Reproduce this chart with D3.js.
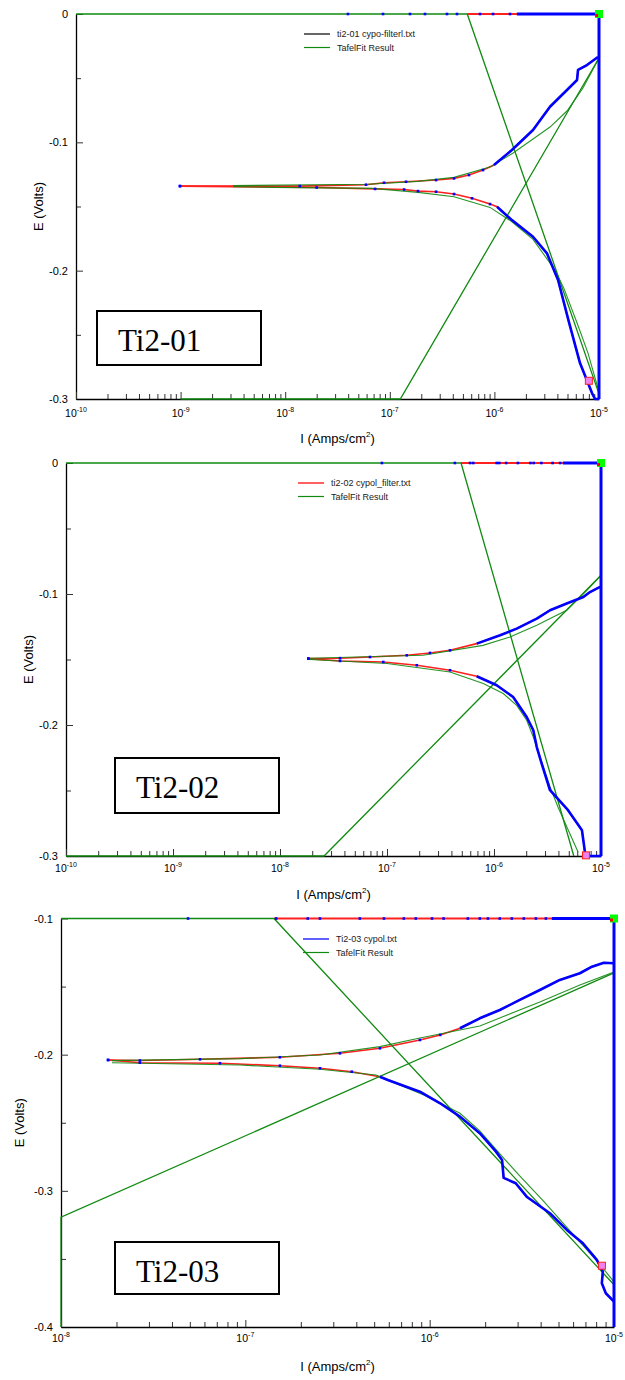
<!DOCTYPE html>
<html><head><meta charset="utf-8">
<script src="https://cdn.jsdelivr.net/npm/d3@7"></script>
<style>
body{margin:0;background:#fff}
svg{display:block}
text{font-family:"Liberation Sans",Arial,sans-serif}
</style>
</head><body>
<svg id="c" width="625" height="1380"></svg>
<script>
// ---------------- data (I in A/cm², E in V) ----------------
// Panel 1 : Ti2-01
const p1Anodic = [[9.86e-10,-0.1341],[1.38e-8,-0.1341],[5.92e-8,-0.1330],[8.81e-8,-0.1315],[1.43e-7,-0.1307],[2.77e-7,-0.1294],[4.11e-7,-0.1281],[5.71e-7,-0.1255],[7.78e-7,-0.1216],[9.91e-7,-0.1177],[1.47e-6,-0.1060],[2.34e-6,-0.0904],[3.40e-6,-0.0723],[4.94e-6,-0.0592],[6.17e-6,-0.0514],[6.30e-6,-0.0436],[7.67e-6,-0.0398],[9.77e-6,-0.0335]];
const p1Cathodic = [[9.86e-10,-0.1341],[2.0e-8,-0.1352],[7.23e-8,-0.1363],[1.37e-7,-0.1368],[1.86e-7,-0.1380],[2.77e-7,-0.1385],[4.11e-7,-0.1403],[6.11e-7,-0.1436],[9.08e-7,-0.1481],[1.06e-6,-0.1502],[1.47e-6,-0.1606],[2.34e-6,-0.1736],[3.18e-6,-0.1865],[4.06e-6,-0.2073],[5.16e-6,-0.2401],[6.58e-6,-0.2720],[8.57e-6,-0.2954],[9.16e-6,-0.3],[1e-5,-0.3]];
const p1FitAnodic = [[3.17e-9,-0.1337],[6.19e-8,-0.1327],[1.86e-7,-0.1304],[4.11e-7,-0.1273],[9.08e-7,-0.1193],[1.51e-6,-0.1083],[2.34e-6,-0.0974],[3.40e-6,-0.0881],[4.94e-6,-0.0756],[7.03e-6,-0.0577],[1e-5,-0.0343],[1e-5,0]];
const p1FitCathodic = [[3.17e-9,-0.1345],[7.98e-9,-0.1351],[6.76e-8,-0.1359],[1.86e-7,-0.1390],[4.11e-7,-0.1424],[9.08e-7,-0.1507],[1.47e-6,-0.1619],[2.34e-6,-0.1756],[3.79e-6,-0.1995],[4.62e-6,-0.2138],[6.17e-6,-0.2408],[7.85e-6,-0.2642],[9.77e-6,-0.2915]];
const p1TafelAnodic = [[1e-9,-0.3],[1.26e-7,-0.3],[1e-5,-0.0343]];
const p1TafelCathodic = [[1e-10,0],[5.5e-7,0],[1e-5,-0.296]];
const p1TopRedFrom = 5.5e-7, p1TopDenseFrom = 1.64e-6;
const p1TopDots = [3.98e-8,8.61e-8,1.56e-7,2.17e-7,3.52e-7,4.39e-7,7.28e-7,9.71e-7,1.41e-6];
const p1Corr = [8.0e-6,-0.2858];

// Panel 2 : Ti2-02
const p2Anodic = [[1.84e-8,-0.1493],[3.64e-8,-0.1490],[6.93e-8,-0.1481],[1.53e-7,-0.1468],[2.52e-7,-0.1450],[3.88e-7,-0.1430],[6.89e-7,-0.1379],[1.14e-6,-0.1315],[1.63e-6,-0.1264],[2.51e-6,-0.1188],[3.34e-6,-0.1124],[4.78e-6,-0.1073],[6.84e-6,-0.1023],[7.89e-6,-0.0985],[9.8e-6,-0.0946]];
const p2Cathodic = [[1.84e-8,-0.1493],[3.64e-8,-0.1511],[9.23e-8,-0.1519],[1.90e-7,-0.1544],[3.88e-7,-0.1582],[6.89e-7,-0.1628],[1.06e-6,-0.1697],[1.51e-6,-0.1786],[2.02e-6,-0.1939],[2.33e-6,-0.2040],[2.51e-6,-0.2168],[2.79e-6,-0.2295],[3.34e-6,-0.2498],[4.92e-6,-0.2650],[6.64e-6,-0.2804],[7.08e-6,-0.2970],[7.3e-6,-0.3],[1e-5,-0.3]];
const p2FitAnodic = [[1.9e-8,-0.1490],[2.17e-7,-0.1468],[7.89e-7,-0.1392],[1.41e-6,-0.1328],[2.51e-6,-0.1239],[4.78e-6,-0.1124],[7.34e-6,-0.0975],[1e-5,-0.0857],[1e-5,0]];
const p2FitCathodic = [[1.9e-8,-0.1500],[1.0e-7,-0.1530],[3.88e-7,-0.1595],[7.94e-7,-0.1684],[1.22e-6,-0.1760],[1.63e-6,-0.1850],[2.02e-6,-0.1964],[2.33e-6,-0.2092],[2.69e-6,-0.2244],[3.34e-6,-0.2473],[3.96e-6,-0.2626],[6.10e-6,-0.2969]];
const p2TafelAnodic = [[1e-10,-0.3],[2.58e-8,-0.3],[1e-5,-0.0857]];
const p2TafelCathodic = [[1e-10,0],[4.92e-7,0],[5.57e-6,-0.3]];
const p2TopRedFrom = 4.92e-7, p2TopDenseFrom = 4.4e-6;
const p2TopDots = [8.97e-8,4.31e-7,5.98e-7,6.4e-7,1.06e-6,1.12e-6,1.3e-6,1.67e-6,2.19e-6,2.35e-6,2.77e-6,3.53e-6,4.15e-6];
const p2Corr = [7.24e-6,-0.2995];

// Panel 3 : Ti2-03
const p3Anodic = [[1.80e-8,-0.2039],[2.68e-8,-0.2043],[5.68e-8,-0.2034],[1.54e-7,-0.2019],[3.26e-7,-0.1990],[5.37e-7,-0.1953],[8.85e-7,-0.1892],[1.14e-6,-0.1855],[1.46e-6,-0.1806],[1.87e-6,-0.1733],[2.40e-6,-0.1672],[3.08e-6,-0.1598],[3.96e-6,-0.1525],[5.08e-6,-0.1451],[6.53e-6,-0.1402],[7.59e-6,-0.1354],[8.81e-6,-0.1325],[1e-5,-0.1329]];
const p3Cathodic = [[1.80e-8,-0.2039],[2.68e-8,-0.2059],[7.28e-8,-0.2063],[1.54e-7,-0.2081],[2.54e-7,-0.2100],[3.78e-7,-0.2125],[5.37e-7,-0.2162],[5.93e-7,-0.2186],[8.85e-7,-0.2272],[1.14e-6,-0.2357],[1.46e-6,-0.2455],[1.87e-6,-0.2577],[2.29e-6,-0.2712],[2.47e-6,-0.2773],[2.52e-6,-0.2905],[2.93e-6,-0.2944],[3.36e-6,-0.3043],[4.49e-6,-0.3165],[5.55e-6,-0.3287],[6.78e-6,-0.3385],[8.07e-6,-0.3507],[8.70e-6,-0.3593],[8.59e-6,-0.3678],[9.03e-6,-0.3752],[1e-5,-0.3813]];
const p3FitAnodic = [[1.89e-8,-0.2044],[9.35e-8,-0.2029],[2.54e-7,-0.2002],[5.37e-7,-0.1941],[8.85e-7,-0.1877],[1.87e-6,-0.1789],[3.96e-6,-0.1613],[6.53e-6,-0.1488],[1e-5,-0.1393],[1e-5,-0.1]];
const p3FitCathodic = [[1.89e-8,-0.2059],[9.35e-8,-0.2076],[2.54e-7,-0.2107],[5.11e-7,-0.2149],[6.89e-7,-0.2222],[9.30e-7,-0.2296],[1.46e-6,-0.2430],[1.87e-6,-0.2560],[2.52e-6,-0.2760],[3.08e-6,-0.2890],[4.11e-6,-0.3070],[8.38e-6,-0.3540],[1e-5,-0.3669]];
const p3TafelAnodic = [[1e-8,-0.4],[1e-8,-0.3194],[1e-5,-0.140]];
const p3TafelCathodic = [[1e-8,-0.1],[1.43e-7,-0.1],[1e-5,-0.369]];
const p3TopRedFrom = 1.43e-7, p3TopDenseFrom = 4.6e-6;
const p3TopDots = [4.89e-8,1.47e-7,2.18e-7,2.54e-7,4.18e-7,5.65e-7,7.24e-7,8.41e-7,1.03e-6,1.19e-6,1.61e-6,1.87e-6,2.07e-6,2.40e-6,2.79e-6,3.24e-6,3.77e-6,4.27e-6];
const p3Corr = [8.6e-6,-0.355];

// ticks
const p12YTicks = [0,-0.1,-0.2,-0.3];
const p12YMinor = [-0.05,-0.15,-0.25];
const p3YTicks = [-0.1,-0.2,-0.3,-0.4];
const p3YMinor = [-0.15,-0.25,-0.35];
const p12XDecades = [1e-10,1e-9,1e-8,1e-7,1e-6,1e-5];
const p12XExp = ["-10","-9","-8","-7","-6","-5"];
const p3XDecades = [1e-8,1e-7,1e-6,1e-5];
const p3XExp = ["-8","-7","-6","-5"];

const legendNames = ["ti2-01 cypo-filterl.txt","ti2-02 cypol_filter.txt","Ti2-03 cypol.txt"];
const fitName = "TafelFit Result";
const sampleLabels = ["Ti2-01","Ti2-02","Ti2-03"];

// ---------------- layout ----------------
const panels = [
  {left:76,right:599,top:14,bottom:399,xDom:[1e-10,1e-5],yDom:[-0.3,0],yTicks:p12YTicks,yMinor:p12YMinor,xDec:p12XDecades,xExp:p12XExp,
   an:p1Anodic,ca:p1Cathodic,fa:p1FitAnodic,fc:p1FitCathodic,ta:p1TafelAnodic,tc:p1TafelCathodic,
   topRed:p1TopRedFrom,topDense:p1TopDenseFrom,topDots:p1TopDots,corr:p1Corr,denseA:9.9e-7,denseC:1.0e-6,
   legX:304,legY:34,legColor:"#000",legW:1.2,tickLabY:417,xTitleY:443,yTitleX:43,
   box:[97,311,164,54]},
  {left:66,right:601,top:463,bottom:856,xDom:[1e-10,1e-5],yDom:[-0.3,0],yTicks:p12YTicks,yMinor:p12YMinor,xDec:p12XDecades,xExp:p12XExp,
   an:p2Anodic,ca:p2Cathodic,fa:p2FitAnodic,fc:p2FitCathodic,ta:p2TafelAnodic,tc:p2TafelCathodic,
   topRed:p2TopRedFrom,topDense:p2TopDenseFrom,topDots:p2TopDots,corr:p2Corr,denseA:6.8e-7,denseC:6.8e-7,
   legX:298,legY:483,legColor:"#ff6060",legW:2,tickLabY:872,xTitleY:899,yTitleX:33,
   box:[115,758,164,55]},
  {left:61,right:614,top:918.5,bottom:1327,xDom:[1e-8,1e-5],yDom:[-0.4,-0.1],yTicks:p3YTicks,yMinor:p3YMinor,xDec:p3XDecades,xExp:p3XExp,
   an:p3Anodic,ca:p3Cathodic,fa:p3FitAnodic,fc:p3FitCathodic,ta:p3TafelAnodic,tc:p3TafelCathodic,
   topRed:p3TopRedFrom,topDense:p3TopDenseFrom,topDots:p3TopDots,corr:p3Corr,denseA:1.4e-6,denseC:5.0e-7,
   legX:303,legY:939,legColor:"#6060ff",legW:2,tickLabY:1342,xTitleY:1371,yTitleX:24,
   box:[115,1242,164,52]}
];

const svg = d3.select("#c");
const GREEN = "#108a10";

panels.forEach((p,i)=>{
  const x = d3.scaleLog().domain(p.xDom).range([p.left,p.right]);
  const y = d3.scaleLinear().domain(p.yDom).range([p.bottom,p.top]);
  const line = d3.line().x(d=>x(d[0])).y(d=>y(d[1]));
  const g = svg.append("g");
  const yTop = p.yDom[1], yBot = p.yDom[0], xMin = p.xDom[0], xMax = p.xDom[1];

  // ---- axes ----
  const yMinAx = g.append("g").attr("transform",`translate(${p.left},0)`)
    .call(d3.axisLeft(y).tickValues(p.yMinor).tickSize(-5).tickFormat(""));
  yMinAx.select(".domain").remove();
  const yAx = g.append("g").attr("transform",`translate(${p.left},0)`)
    .call(d3.axisLeft(y).tickValues(p.yTicks).tickSizeInner(-7).tickSizeOuter(0).tickPadding(8)
      .tickFormat(d=>String(+d.toFixed(2))));
  yAx.selectAll("text").attr("font-size",11).attr("fill","#000").style("font-family","Liberation Sans, Arial, sans-serif");

  const minorX = x.ticks().filter(d=>Math.abs(Math.log10(d)-Math.round(Math.log10(d)))>1e-6);
  const xMinAx = g.append("g").attr("transform",`translate(0,${p.bottom})`)
    .call(d3.axisBottom(x).tickValues(minorX).tickSize(-5).tickFormat(""));
  xMinAx.select(".domain").remove();
  const xAx = g.append("g").attr("transform",`translate(0,${p.bottom})`)
    .call(d3.axisBottom(x).tickValues(p.xDec).tickSizeInner(-7).tickSizeOuter(0).tickFormat(""));
  g.selectAll(".tick line").attr("stroke","#333");
  g.selectAll(".domain").attr("stroke","#000").attr("stroke-width",1.3);

  // x tick labels 10^n
  p.xDec.forEach((d,k)=>{
    const t = g.append("text").attr("x",x(d)).attr("y",p.tickLabY).attr("text-anchor","middle").attr("fill","#000");
    t.append("tspan").attr("font-size",10.5).text("10");
    t.append("tspan").attr("font-size",7).attr("dy",-5).text(p.xExp[k]);
  });

  // axis titles
  const xt = g.append("text").attr("x",(p.left+p.right)/2).attr("y",p.xTitleY).attr("text-anchor","middle").attr("font-size",13).attr("fill","#000");
  xt.append("tspan").text("I (Amps/cm");
  xt.append("tspan").attr("font-size",8).attr("dy",-6).text("2");
  xt.append("tspan").attr("dy",6).text(")");
  g.append("text").attr("transform",`translate(${p.yTitleX},${(p.top+p.bottom)/2}) rotate(-90)`)
    .attr("text-anchor","middle").attr("font-size",13).attr("fill","#000").text("E (Volts)");

  // ---- red data ----
  [p.ca,p.an].forEach(arr=>g.append("path").attr("d",line(arr)).attr("fill","none").attr("stroke","#ff2020").attr("stroke-width",1.6));
  g.append("path").attr("d",line([[p.topRed,yTop],[xMax,yTop]])).attr("fill","none").attr("stroke","#ff2020").attr("stroke-width",2);

  // ---- green fit & Tafel lines ----
  [p.ta,p.tc].forEach(arr=>g.append("path").attr("d",line(arr)).attr("fill","none").attr("stroke",GREEN).attr("stroke-width",1.3));
  [p.fa,p.fc].forEach(arr=>g.append("path").attr("d",line(arr)).attr("fill","none").attr("stroke",GREEN).attr("stroke-width",1.1).attr("stroke-opacity",0.9));

  // ---- blue data markers ----
  const denseA = p.an.filter(d=>d[0]>=p.denseA);
  const denseC = p.ca.filter(d=>d[0]>=p.denseC);
  [denseA,denseC].forEach(arr=>g.append("path").attr("d",line(arr)).attr("fill","none").attr("stroke","#0000ff").attr("stroke-width",2.6).attr("stroke-linejoin","round"));
  const dots = p.an.filter(d=>d[0]<p.denseA).concat(p.ca.filter(d=>d[0]<p.denseC));
  g.selectAll(null).data(dots).enter().append("rect")
    .attr("x",d=>x(d[0])-1.3).attr("y",d=>y(d[1])-1.3).attr("width",2.6).attr("height",2.6).attr("fill","#0000ff");
  g.selectAll(null).data(p.topDots).enter().append("rect")
    .attr("x",d=>x(d)-1.3).attr("y",y(yTop)-1.3).attr("width",2.6).attr("height",2.6).attr("fill","#0000ff");
  g.append("path").attr("d",line([[p.topDense,yTop],[xMax,yTop]])).attr("stroke","#0000ff").attr("stroke-width",3);
  g.append("path").attr("d",line([[xMax,yTop],[xMax,yBot]])).attr("stroke","#0000ff").attr("stroke-width",3);

  // ---- markers ----
  g.append("rect").attr("x",x(xMax)-4).attr("y",y(yTop)-4).attr("width",8).attr("height",8).attr("fill","#00ff00");
  g.append("rect").attr("x",x(xMax)-4).attr("y",y(yTop)).attr("width",3).attr("height",3).attr("fill","#ff0000");
  g.append("rect").attr("x",x(p.corr[0])-3.5).attr("y",y(p.corr[1])-3.5).attr("width",7).attr("height",7)
    .attr("fill","#f080f0").attr("stroke","#ff2020").attr("stroke-width",1);

  // ---- legend ----
  g.append("line").attr("x1",p.legX).attr("x2",p.legX+26).attr("y1",p.legY).attr("y2",p.legY).attr("stroke",p.legColor).attr("stroke-width",p.legW);
  g.append("text").attr("x",p.legX+33).attr("y",p.legY+3).attr("font-size",9).attr("fill","#222").text(legendNames[i]);
  g.append("line").attr("x1",p.legX).attr("x2",p.legX+26).attr("y1",p.legY+13.5).attr("y2",p.legY+13.5).attr("stroke",GREEN).attr("stroke-width",1.2);
  g.append("text").attr("x",p.legX+33).attr("y",p.legY+16.5).attr("font-size",9).attr("fill","#222").text(fitName);

  // ---- sample label box ----
  const [bx,by,bw,bh] = p.box;
  g.append("rect").attr("x",bx).attr("y",by).attr("width",bw).attr("height",bh).attr("fill","#fff").attr("stroke","#000").attr("stroke-width",2);
  g.append("text").attr("x",bx+21).attr("y",by+40).attr("font-size",31).attr("fill","#000")
    .style("font-family","Liberation Serif, Times New Roman, serif").text(sampleLabels[i]);
});
</script>
</body></html>
